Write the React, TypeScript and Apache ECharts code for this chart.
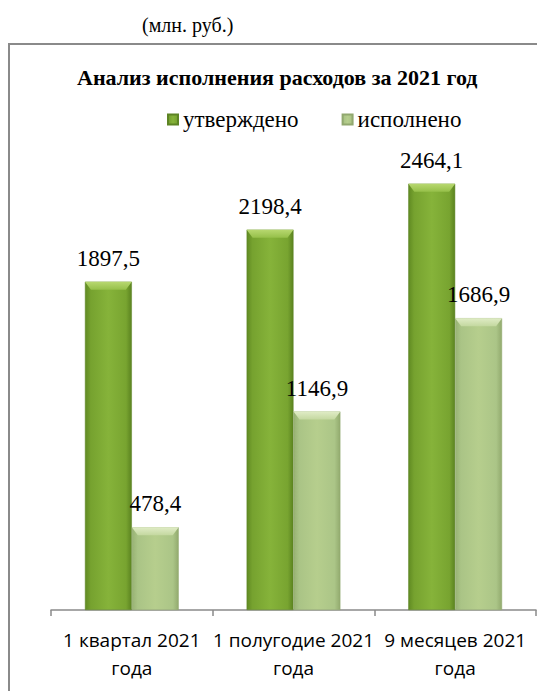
import React, { useEffect, useRef } from "react";
import * as echarts from "echarts";

const categories = ["1 квартал 2021\nгода", "1 полугодие 2021\nгода", "9 месяцев 2021\nгода"];
const approved = [1897.5, 2198.4, 2464.1];
const executed = [478.4, 1146.9, 1686.9];
const seriesNames = ["утверждено", "исполнено"];
const titleText = "Анализ исполнения расходов за 2021 год";
const unitText = "(млн. руб.)";

const SERIF = "Liberation Serif";
const fmt = (v: number) => v.toFixed(1).replace(".", ",");

const CAT_GAP = 0.42;

function bevelSeries(values: number[], side: number, top: string, bottom: string) {
  return {
    type: "custom",
    silent: true,
    z: 3,
    data: values.map((v, i) => [i, v]),
    renderItem: (params: any, api: any) => {
      const c = api.coord([api.value(0), api.value(1)]);
      const band = api.size([1, 0])[0];
      const bw = (band * (1 - CAT_GAP)) / 2;
      const x0 = side === 0 ? c[0] - bw : c[0];
      const x1 = x0 + bw;
      const y = c[1];
      const h = 8;
      const ins = 6;
      return {
        type: "polygon",
        shape: {
          points: [
            [x0, y],
            [x1, y],
            [x1 - ins, y + h],
            [x0 + ins, y + h],
          ],
        },
        style: {
          fill: new echarts.graphic.LinearGradient(0, 0, 0, 1, [
            { offset: 0, color: top },
            { offset: 1, color: bottom },
          ]),
          stroke: "none",
        },
      };
    },
  };
}

export default function App() {
  const ref = useRef<HTMLDivElement>(null);
  useEffect(() => {
    if (!ref.current) return;
    const chart = echarts.init(ref.current, undefined, { renderer: "svg" });
    const darkGrad = new echarts.graphic.LinearGradient(0, 0, 1, 0, [
      { offset: 0, color: "#608a22" },
      { offset: 0.12, color: "#76a22f" },
      { offset: 0.5, color: "#86b33a" },
      { offset: 0.88, color: "#78a430" },
      { offset: 1, color: "#5b8320" },
    ]);
    const lightGrad = new echarts.graphic.LinearGradient(0, 0, 1, 0, [
      { offset: 0, color: "#98b274" },
      { offset: 0.12, color: "#aac486" },
      { offset: 0.5, color: "#b6ce8d" },
      { offset: 0.88, color: "#abc587" },
      { offset: 1, color: "#92aa6e" },
    ]);
    const labelStyle = {
      show: true,
      position: "top" as const,
      distance: 12,
      fontFamily: SERIF,
      fontSize: 23,
      color: "#000",
      formatter: (p: any) => fmt(p.value),
    };
    chart.setOption({
      animation: false,
      backgroundColor: "#fff",
      title: {
        text: titleText,
        left: 77,
        top: 66,
        padding: 0,
        textStyle: {
          fontFamily: SERIF,
          fontWeight: "bold",
          fontSize: 22,
          color: "#000",
        },
      },
      legend: {
        data: seriesNames,
        left: 167,
        top: 108,
        padding: 0,
        itemWidth: 10,
        itemHeight: 10,
        itemGap: 43,
        icon: "rect",
        textStyle: {
          fontFamily: SERIF,
          fontSize: 23,
          color: "#000",
        },
      },
      graphic: [
        {
          type: "rect",
          shape: { x: 9, y: 44, width: 560, height: 700 },
          style: { fill: "none", stroke: "#8a8a8a", lineWidth: 2 },
          silent: true,
        },
        {
          type: "text",
          x: 142,
          y: 25,
          style: {
            text: unitText,
            fontFamily: SERIF,
            fontSize: 20,
            fill: "#000",
            verticalAlign: "middle",
          },
        },
      ],
      grid: { left: 51, right: 1, top: 177.5, bottom: 81, containLabel: false },
      xAxis: {
        type: "category",
        data: categories,
        axisLine: { lineStyle: { color: "#8a8a8a", width: 1.5 } },
        axisTick: { show: true, length: 6, lineStyle: { color: "#8a8a8a", width: 1.5 } },
        axisLabel: {
          margin: 16,
          interval: 0,
          fontFamily: "Open Sans",
          fontSize: 19,
          lineHeight: 28,
          color: "#000",
        },
      },
      yAxis: {
        type: "value",
        min: 0,
        max: 2500,
        show: false,
        splitLine: { show: false },
      },
      series: [
        {
          name: seriesNames[0],
          type: "bar",
          data: approved,
          barGap: "0%",
          barCategoryGap: "42%",
          itemStyle: { color: darkGrad, borderColor: "#5d8424", borderWidth: 0.5 },
          label: labelStyle,
        },
        {
          name: seriesNames[1],
          type: "bar",
          data: executed,
          itemStyle: { color: lightGrad, borderColor: "#91a86f", borderWidth: 0.5 },
          label: labelStyle,
        },
        bevelSeries(approved, 0, "#b8d870", "#96c04a"),
        bevelSeries(executed, 1, "#e0ecc6", "#c4d8a0"),
      ],
    });
    return () => chart.dispose();
  }, []);
  return (
    <div
      ref={ref}
      style={{ position: "absolute", left: 0, top: 0, width: 537, height: 691 }}
    />
  );
}
